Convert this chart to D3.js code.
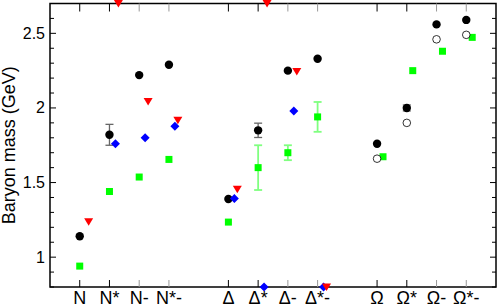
<!DOCTYPE html>
<html>
<head>
<meta charset="utf-8">
<script src="https://cdn.jsdelivr.net/npm/d3@7"></script>
<style>
  body { margin: 0; background: #fff; }
  svg { display: block; font-family: "Liberation Sans", Arial, sans-serif; }
</style>
</head>
<body>
<div id="chart"></div>
<script>
const categories = ["N", "N*", "N-", "N*-", "Δ", "Δ*", "Δ-", "Δ*-", "Ω", "Ω*", "Ω-", "Ω*-"];

// series values (GeV), null = no point
const black    = [1.14, 1.82, 2.22, 2.29, 1.39, 1.85, 2.25, 2.33, 1.76, 2.00, 2.56, 2.59];
const blackErr = [0, 0.07, 0, 0, 0, 0.048, 0, 0, 0, 0.02, 0, 0];
const open     = [null, null, null, null, null, null, null, null, 1.66, 1.90, 2.46, 2.49];
const green    = [0.94, 1.44, 1.537, 1.655, 1.235, 1.60, 1.70, 1.94, 1.673, 2.25, 2.38, 2.473];
const greenErr = [0, 0, 0, 0, 0, 0.15, 0.05, 0.10, 0, 0, 0, 0];
const red      = [1.237, 2.70, 2.044, 1.917, 1.455, 2.70, 2.244, 0.80, null, null, null, null];
const blue     = [null, 1.76, 1.80, 1.877, 1.393, 0.80, 1.98, 0.80, null, null, null, null];

const yTicks = [1, 1.5, 2, 2.5];

const width = 498, height = 308;
const margin = {top: 3.5, right: 2, bottom: 21, left: 50};

const svg = d3.select("#chart").append("svg")
  .attr("width", width)
  .attr("height", height);

// category position: one empty slot between the N, Δ and Ω groups
const pos = i => i + 1 + Math.floor(i / 4);
const group = i => Math.floor(i / 4);

const x = d3.scaleLinear().domain([0, 15]).range([margin.left, width - margin.right]);
const y = d3.scaleLinear().domain([0.8, 2.7]).range([height - margin.bottom, margin.top]);

const x0 = x.range()[0], x1 = x.range()[1];
const y0 = y.range()[0], y1 = y.range()[1];

// frame
svg.append("rect")
  .attr("x", x0).attr("y", y1)
  .attr("width", x1 - x0).attr("height", y0 - y1)
  .attr("fill", "none")
  .attr("stroke", "#000")
  .attr("stroke-width", 1.5);

// y ticks (inward, both sides)
const minor = d3.range(0.8, 2.71, 0.1).map(v => +v.toFixed(1));
minor.forEach(v => {
  const major = yTicks.includes(v);
  const len = major ? 6 : 4;
  svg.append("line").attr("x1", x0).attr("x2", x0 + len)
    .attr("y1", y(v)).attr("y2", y(v)).attr("stroke", "#000");
  svg.append("line").attr("x1", x1).attr("x2", x1 - len)
    .attr("y1", y(v)).attr("y2", y(v)).attr("stroke", "#000");
});

svg.append("g").selectAll("text")
  .data(yTicks)
  .join("text")
  .attr("x", x0 - 5)
  .attr("y", d => y(d) + 5.5)
  .attr("text-anchor", "end")
  .attr("font-size", 16)
  .text(d => d);

// x ticks (inward, top and bottom)
categories.forEach((c, i) => {
  const col = c.endsWith("-") ? "#999" : "#000";
  svg.append("line").attr("x1", x(pos(i))).attr("x2", x(pos(i)))
    .attr("y1", y0).attr("y2", y0 - 7).attr("stroke", col);
  svg.append("line").attr("x1", x(pos(i))).attr("x2", x(pos(i)))
    .attr("y1", y1).attr("y2", y1 + 8).attr("stroke", col);
});

svg.append("g").selectAll("text")
  .data(categories)
  .join("text")
  .attr("x", (d, i) => x(pos(i)))
  .attr("y", 304)
  .attr("text-anchor", "middle")
  .attr("font-size", 18)
  .text(d => d);

svg.append("text")
  .attr("transform", `translate(15,${(y0 + y1) / 2}) rotate(-90)`)
  .attr("text-anchor", "middle")
  .attr("font-size", 18)
  .text("Baryon mass (GeV)");

// error bars
function errorBars(vals, errs, off, color, w) {
  const g = svg.append("g").attr("stroke", color).attr("stroke-width", w);
  vals.forEach((v, i) => {
    if (v == null || !errs[i]) return;
    const cx = x(pos(i) + off(i));
    g.append("line").attr("x1", cx).attr("x2", cx)
      .attr("y1", y(v - errs[i])).attr("y2", y(v + errs[i]));
    [v - errs[i], v + errs[i]].forEach(e => {
      g.append("line").attr("x1", cx - 4).attr("x2", cx + 4)
        .attr("y1", y(e)).attr("y2", y(e));
    });
  });
}

const greenOff = i => group(i) === 2 ? 0.2 : 0;
const idx = arr => arr.map((v, i) => ({v, i})).filter(d => d.v != null);

errorBars(green, greenErr, greenOff, "#80ff80", 1.8);
errorBars(black, blackErr, () => 0, "#666", 1.3);

// green squares
svg.append("g").selectAll("rect")
  .data(idx(green))
  .join("rect")
  .attr("x", d => x(pos(d.i) + greenOff(d.i)) - 3.5)
  .attr("y", d => y(d.v) - 3.5)
  .attr("width", 7).attr("height", 7)
  .attr("fill", "#00ff00");

// black filled circles
svg.append("g").selectAll("circle")
  .data(idx(black))
  .join("circle")
  .attr("cx", d => x(pos(d.i)))
  .attr("cy", d => y(d.v))
  .attr("r", 4.2)
  .attr("fill", "#000");

// open circles
svg.append("g").selectAll("circle")
  .data(idx(open))
  .join("circle")
  .attr("cx", d => x(pos(d.i)))
  .attr("cy", d => y(d.v))
  .attr("r", 3.8)
  .attr("fill", "#fff")
  .attr("stroke", "#000")
  .attr("stroke-width", 0.8);

// blue diamonds
svg.append("g").selectAll("path")
  .data(idx(blue))
  .join("path")
  .attr("d", "M0,-4.5L4.5,0L0,4.5L-4.5,0Z")
  .attr("transform", d => `translate(${x(pos(d.i) + 0.2)},${y(d.v)})`)
  .attr("fill", "#0000ff");

// red down triangles
svg.append("g").selectAll("path")
  .data(idx(red))
  .join("path")
  .attr("d", "M-4.5,-3.5L4.5,-3.5L0,4Z")
  .attr("transform", d => `translate(${x(pos(d.i) + 0.3)},${y(d.v)})`)
  .attr("fill", "#ff0000");
</script>
</body>
</html>
